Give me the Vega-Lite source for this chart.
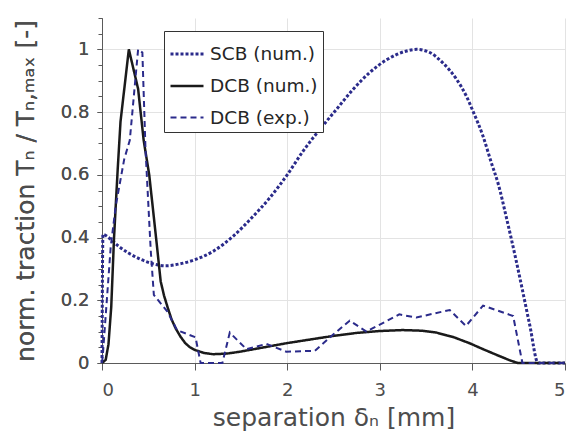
{
  "$schema": "https://vega.github.io/schema/vega-lite/v6.json",
  "width": 463,
  "height": 345,
  "autosize": {"type": "none"},
  "padding": {"left": 102, "top": 18, "right": 1, "bottom": 78},
  "background": "white",
  "config": {
    "view": {"stroke": null},
    "font": "DejaVu Sans",
    "axis": {
      "domainColor": "#5a5a5a",
      "tickColor": "#5a5a5a",
      "gridColor": "#e3e3e3",
      "labelColor": "#4d4d4d",
      "titleColor": "#4d4d4d",
      "labelFont": "DejaVu Sans",
      "titleFont": "DejaVu Sans",
      "labelFontSize": 18,
      "titleFontSize": 25,
      "titleFontWeight": "normal"
    },
    "legend": {
      "orient": "none", "legendX": 62, "legendY": 13, "title": null,
      "padding": 5, "strokeColor": "#333333", "fillColor": "white",
      "labelFontSize": 18.5, "labelColor": "#262626", "labelFont": "DejaVu Sans",
      "symbolSize": 1089, "rowPadding": 4, "labelOffset": 5
    }
  },
  "data": {
    "values": [
      {"series": "SCB (num.)", "x": 0, "y": 0},
      {"series": "SCB (num.)", "x": 0.01, "y": 0.41},
      {"series": "SCB (num.)", "x": 0.08, "y": 0.398},
      {"series": "SCB (num.)", "x": 0.18, "y": 0.372},
      {"series": "SCB (num.)", "x": 0.29, "y": 0.35},
      {"series": "SCB (num.)", "x": 0.4, "y": 0.333},
      {"series": "SCB (num.)", "x": 0.51, "y": 0.32},
      {"series": "SCB (num.)", "x": 0.69, "y": 0.31},
      {"series": "SCB (num.)", "x": 0.84, "y": 0.316},
      {"series": "SCB (num.)", "x": 1.0, "y": 0.329},
      {"series": "SCB (num.)", "x": 1.2, "y": 0.356},
      {"series": "SCB (num.)", "x": 1.415, "y": 0.404},
      {"series": "SCB (num.)", "x": 1.63, "y": 0.467},
      {"series": "SCB (num.)", "x": 1.81, "y": 0.526},
      {"series": "SCB (num.)", "x": 2.0, "y": 0.6},
      {"series": "SCB (num.)", "x": 2.17, "y": 0.675},
      {"series": "SCB (num.)", "x": 2.35, "y": 0.744},
      {"series": "SCB (num.)", "x": 2.53, "y": 0.808},
      {"series": "SCB (num.)", "x": 2.71, "y": 0.872},
      {"series": "SCB (num.)", "x": 2.89, "y": 0.926},
      {"series": "SCB (num.)", "x": 3.07, "y": 0.966},
      {"series": "SCB (num.)", "x": 3.29, "y": 0.995},
      {"series": "SCB (num.)", "x": 3.4, "y": 1.0},
      {"series": "SCB (num.)", "x": 3.54, "y": 0.99},
      {"series": "SCB (num.)", "x": 3.68, "y": 0.957},
      {"series": "SCB (num.)", "x": 3.83, "y": 0.904},
      {"series": "SCB (num.)", "x": 3.935, "y": 0.851},
      {"series": "SCB (num.)", "x": 4.006, "y": 0.803},
      {"series": "SCB (num.)", "x": 4.115, "y": 0.723},
      {"series": "SCB (num.)", "x": 4.205, "y": 0.638},
      {"series": "SCB (num.)", "x": 4.28, "y": 0.57},
      {"series": "SCB (num.)", "x": 4.37, "y": 0.46},
      {"series": "SCB (num.)", "x": 4.47, "y": 0.33},
      {"series": "SCB (num.)", "x": 4.54, "y": 0.233},
      {"series": "SCB (num.)", "x": 4.62, "y": 0.12},
      {"series": "SCB (num.)", "x": 4.71, "y": 0},
      {"series": "SCB (num.)", "x": 5, "y": 0},
      {"series": "DCB (num.)", "x": 0, "y": 0},
      {"series": "DCB (num.)", "x": 0.04, "y": 0.01},
      {"series": "DCB (num.)", "x": 0.07, "y": 0.06},
      {"series": "DCB (num.)", "x": 0.1, "y": 0.18},
      {"series": "DCB (num.)", "x": 0.13, "y": 0.4},
      {"series": "DCB (num.)", "x": 0.17, "y": 0.62},
      {"series": "DCB (num.)", "x": 0.2, "y": 0.77},
      {"series": "DCB (num.)", "x": 0.29, "y": 1.0},
      {"series": "DCB (num.)", "x": 0.39, "y": 0.874},
      {"series": "DCB (num.)", "x": 0.45, "y": 0.71},
      {"series": "DCB (num.)", "x": 0.51, "y": 0.6},
      {"series": "DCB (num.)", "x": 0.58, "y": 0.41},
      {"series": "DCB (num.)", "x": 0.634, "y": 0.26},
      {"series": "DCB (num.)", "x": 0.67, "y": 0.215},
      {"series": "DCB (num.)", "x": 0.706, "y": 0.18},
      {"series": "DCB (num.)", "x": 0.75, "y": 0.14},
      {"series": "DCB (num.)", "x": 0.796, "y": 0.11},
      {"series": "DCB (num.)", "x": 0.85, "y": 0.083},
      {"series": "DCB (num.)", "x": 0.9, "y": 0.063},
      {"series": "DCB (num.)", "x": 0.95, "y": 0.05},
      {"series": "DCB (num.)", "x": 1.0, "y": 0.042},
      {"series": "DCB (num.)", "x": 1.1, "y": 0.032},
      {"series": "DCB (num.)", "x": 1.2, "y": 0.028},
      {"series": "DCB (num.)", "x": 1.35, "y": 0.03},
      {"series": "DCB (num.)", "x": 1.49, "y": 0.036},
      {"series": "DCB (num.)", "x": 1.75, "y": 0.05},
      {"series": "DCB (num.)", "x": 1.99, "y": 0.063},
      {"series": "DCB (num.)", "x": 2.25, "y": 0.075},
      {"series": "DCB (num.)", "x": 2.49, "y": 0.086},
      {"series": "DCB (num.)", "x": 2.75, "y": 0.096},
      {"series": "DCB (num.)", "x": 3.0, "y": 0.102},
      {"series": "DCB (num.)", "x": 3.25, "y": 0.105},
      {"series": "DCB (num.)", "x": 3.45, "y": 0.103},
      {"series": "DCB (num.)", "x": 3.61, "y": 0.097},
      {"series": "DCB (num.)", "x": 3.8, "y": 0.082},
      {"series": "DCB (num.)", "x": 3.97, "y": 0.063},
      {"series": "DCB (num.)", "x": 4.1, "y": 0.046},
      {"series": "DCB (num.)", "x": 4.26, "y": 0.026},
      {"series": "DCB (num.)", "x": 4.4, "y": 0.009},
      {"series": "DCB (num.)", "x": 4.49, "y": 0},
      {"series": "DCB (num.)", "x": 5, "y": 0},
      {"series": "DCB (exp.)", "x": 0, "y": 0},
      {"series": "DCB (exp.)", "x": 0.01, "y": 0.03},
      {"series": "DCB (exp.)", "x": 0.094, "y": 0.37},
      {"series": "DCB (exp.)", "x": 0.148, "y": 0.5},
      {"series": "DCB (exp.)", "x": 0.24, "y": 0.65},
      {"series": "DCB (exp.)", "x": 0.3, "y": 0.71},
      {"series": "DCB (exp.)", "x": 0.39, "y": 1.0},
      {"series": "DCB (exp.)", "x": 0.436, "y": 0.99},
      {"series": "DCB (exp.)", "x": 0.47, "y": 0.68},
      {"series": "DCB (exp.)", "x": 0.526, "y": 0.36},
      {"series": "DCB (exp.)", "x": 0.56, "y": 0.217},
      {"series": "DCB (exp.)", "x": 0.706, "y": 0.164},
      {"series": "DCB (exp.)", "x": 0.81, "y": 0.105},
      {"series": "DCB (exp.)", "x": 1.01, "y": 0.082},
      {"series": "DCB (exp.)", "x": 1.065, "y": 0},
      {"series": "DCB (exp.)", "x": 1.3, "y": 0},
      {"series": "DCB (exp.)", "x": 1.38, "y": 0.097},
      {"series": "DCB (exp.)", "x": 1.56, "y": 0.044},
      {"series": "DCB (exp.)", "x": 1.775, "y": 0.061},
      {"series": "DCB (exp.)", "x": 1.99, "y": 0.036},
      {"series": "DCB (exp.)", "x": 2.3, "y": 0.039},
      {"series": "DCB (exp.)", "x": 2.49, "y": 0.089},
      {"series": "DCB (exp.)", "x": 2.675, "y": 0.135},
      {"series": "DCB (exp.)", "x": 2.855, "y": 0.1},
      {"series": "DCB (exp.)", "x": 3.21, "y": 0.155},
      {"series": "DCB (exp.)", "x": 3.395, "y": 0.145},
      {"series": "DCB (exp.)", "x": 3.755, "y": 0.169},
      {"series": "DCB (exp.)", "x": 3.93, "y": 0.118},
      {"series": "DCB (exp.)", "x": 4.115, "y": 0.183},
      {"series": "DCB (exp.)", "x": 4.44, "y": 0.15},
      {"series": "DCB (exp.)", "x": 4.54, "y": 0},
      {"series": "DCB (exp.)", "x": 5, "y": 0}
    ]
  },
  "encoding": {
    "x": {
      "field": "x", "type": "quantitative",
      "scale": {"domain": [0, 5], "nice": false},
      "axis": {
        "values": [0, 1, 2, 3, 4, 5], "format": "d",
        "grid": true, "tickSize": 7, "labelPadding": 11,
        "title": "separation δₙ [mm]",
        "titleY": 62, "titleBaseline": "alphabetic"
      }
    },
    "y": {
      "field": "y", "type": "quantitative",
      "scale": {"domain": [0, 1.1], "nice": false},
      "axis": {
        "orient": "left",
        "values": [0, 0.2, 0.4, 0.6, 0.8, 1],
        "labelExpr": "format(datum.value, '~g')",
        "grid": true, "tickSize": 5, "labelPadding": 8,
        "title": "norm. traction Tₙ / Tₙ,ₘₐₓ [-]",
        "titleX": -69, "titleBaseline": "alphabetic"
      }
    },
    "color": {
      "field": "series", "type": "nominal",
      "scale": {"domain": ["SCB (num.)", "DCB (num.)", "DCB (exp.)"], "range": ["#2b2b8b", "#1a1a1a", "#2b2b8b"]}
    },
    "strokeDash": {
      "field": "series", "type": "nominal",
      "scale": {"domain": ["SCB (num.)", "DCB (num.)", "DCB (exp.)"], "range": [[3, 2], [1, 0], [6, 4]]}
    },
    "strokeWidth": {
      "field": "series", "type": "nominal",
      "scale": {"domain": ["SCB (num.)", "DCB (num.)", "DCB (exp.)"], "range": [3, 2, 1.3]}
    }
  },
  "layer": [
    {
      "transform": [{"filter": "datum.series === 'SCB (num.)'"}],
      "mark": {"type": "line", "strokeCap": "butt", "clip": false, "interpolate": "monotone"}
    },
    {
      "transform": [{"filter": "datum.series !== 'SCB (num.)'"}],
      "mark": {"type": "line", "strokeCap": "butt", "clip": false}
    },
    {
      "mark": {"type": "rule", "opacity": 0},
      "encoding": {
        "x": {"value": 0},
        "color": {"value": "white"},
        "strokeDash": {"value": [1, 0]},
        "strokeWidth": {"value": 1},
        "y": {
          "field": "y", "type": "quantitative",
          "axis": {
            "orient": "left",
            "values": [0, 0.05, 0.1, 0.15, 0.2, 0.25, 0.3, 0.35, 0.4, 0.45, 0.5, 0.55, 0.6, 0.65, 0.7, 0.75, 0.8, 0.85, 0.9, 0.95, 1, 1.05, 1.1],
            "labels": false, "grid": false, "domain": false, "tickSize": 4, "title": null
          }
        }
      }
    }
  ],
  "resolve": {"axis": {"y": "independent"}}
}
